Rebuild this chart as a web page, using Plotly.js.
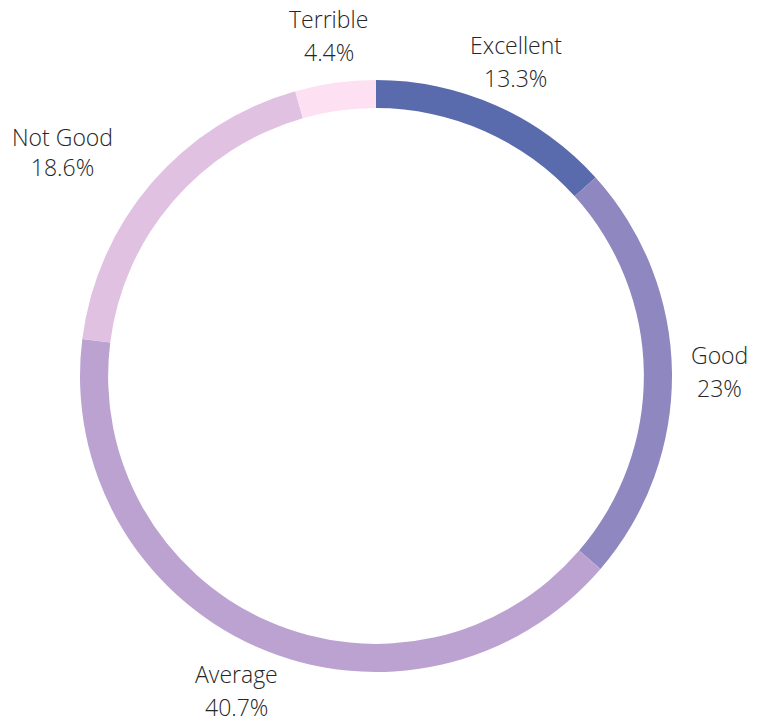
<!DOCTYPE html>
<html>
<head>
<meta charset="utf-8">
<script src="https://cdn.plot.ly/plotly-3.0.1.min.js"></script>
<style>html,body{margin:0;padding:0;background:#fff;}#chart{width:761px;height:719px;}</style>
</head>
<body>
<div id="chart"></div>
<script>
const categories = ["Excellent", "Good", "Average", "Not Good", "Terrible"];
const values = [13.3, 23, 40.7, 18.6, 4.4];
const colors = ["#5A6BAD", "#8F87BF", "#BBA2D1", "#E1C1E1", "#FDE0F2"];
const labelAnchors = ["center", "center", "center", "right", "center"];

const W = 761, H = 719;
const margin = {l: 80, r: 89, t: 80, b: 47};
const plotW = W - margin.l - margin.r;   // 592
const plotH = H - margin.t - margin.b;   // 592
const labelRadiusPx = 344;
const lineGap = 16.5;

const total = values.reduce((a, b) => a + b, 0);
function fmtPct(v) {
  const p = Math.round(v / total * 1000) / 10;
  return (Number.isInteger(p) ? p.toFixed(0) : p.toFixed(1)) + "%";
}

const font = {family: "Open Sans", size: 23, color: "#262626", weight: 300};
const annotations = [];
let cum = 0;
values.forEach((v, i) => {
  const mid = (cum + v / 2) / total * 2 * Math.PI;
  cum += v;
  const x = 0.5 + labelRadiusPx * Math.sin(mid) / plotW;
  const y = 0.5 + labelRadiusPx * Math.cos(mid) / plotH;
  const common = {xref: "paper", yref: "paper", x: x, y: y, showarrow: false,
    xanchor: labelAnchors[i], yanchor: "middle", font: font};
  if (labelAnchors[i] === "right") {
    annotations.push(Object.assign({}, common, {text: categories[i] + "<br>" + fmtPct(v), align: "center", yanchor: "middle", yshift: 0, font: Object.assign({}, font)}));
  } else {
    annotations.push(Object.assign({}, common, {text: categories[i], yshift: lineGap}));
    annotations.push(Object.assign({}, common, {text: fmtPct(v), yshift: -lineGap}));
  }
});

const trace = {
  type: "pie",
  labels: categories,
  values: values,
  sort: false,
  direction: "clockwise",
  rotation: 0,
  hole: 0.905,
  marker: {colors: colors, line: {width: 0}},
  textinfo: "none",
  hoverinfo: "none",
  showlegend: false
};

const layout = {
  width: W,
  height: H,
  margin: margin,
  paper_bgcolor: "#ffffff",
  plot_bgcolor: "#ffffff",
  font: {family: "Open Sans"},
  annotations: annotations
};

Plotly.newPlot("chart", [trace], layout, {displayModeBar: false, staticPlot: true});
</script>
</body>
</html>
